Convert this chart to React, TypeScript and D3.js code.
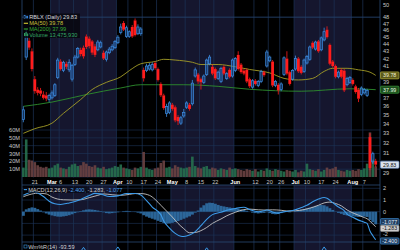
import React, { useEffect } from "react";
import * as d3 from "d3";

// ---------- trading days (2023) ----------
const febDays = [14, 15, 16, 17, 21, 22, 23, 24, 27, 28];
const marDays = [1, 2, 3, 6, 7, 8, 9, 10, 13, 14, 15, 16, 17, 20, 21, 22, 23, 24, 27, 28, 29, 30, 31];
const aprDays = [3, 4, 5, 6, 10, 11, 12, 13, 14, 17, 18, 19, 20, 21, 24, 25, 26, 27, 28];
const mayDays = [1, 2, 3, 4, 5, 8, 9, 10, 11, 12, 15, 16, 17, 18, 19, 22, 23, 24, 25, 26, 30, 31];
const junDays = [1, 2, 5, 6, 7, 8, 9, 12, 13, 14, 15, 16, 20, 21, 22, 23, 26, 27, 28, 29, 30];
const julDays = [3, 5, 6, 7, 10, 11, 12, 13, 14, 17, 18, 19, 20, 21, 24, 25, 26, 27, 28, 31];
const augDays = [1, 2, 3, 4, 7, 8, 9, 10, 11];

// ---------- OHLC ----------
const opens = [
  34.5, 42.2, 44.5, 43.0, 39.3, 38.0, 37.9, 37.4, 37.3, 36.8,
  37.0, 37.3, 39.5, 41.6, 40.4, 41.3, 40.5, 39.3, 41.2, 42.2,
  43.2, 43.5, 45.1, 44.8, 44.4, 43.7, 43.2, 43.6, 42.8, 41.9,
  42.8, 43.2, 43.5, 44.2, 45.7, 47.1, 45.1, 45.1, 46.5, 47.5,
  45.5, 45.5, 40.5, 40.4, 40.6, 40.5, 41.4, 40.6, 38.7, 37.3,
  35.2, 35.3, 36.2, 35.9, 34.8, 34.1, 34.9, 35.9, 36.2, 36.3,
  39.7, 39.9, 39.3, 38.9, 39.9, 41.3, 40.9, 40.6, 39.4, 39.0,
  40.9, 39.4, 40.5, 39.7, 40.4, 42.5, 41.2, 40.4, 40.5, 39.3,
  38.3, 39.1, 38.5, 39.0, 40.2, 41.0, 41.7, 41.6, 38.5, 38.6,
  38.0, 39.9, 42.0, 40.2, 39.3, 40.6, 42.0, 40.9, 40.3, 41.4,
  41.9, 44.2, 43.3, 44.4, 43.2, 44.6, 46.1, 43.9, 41.6, 41.0,
  39.6, 40.5, 40.4, 38.6, 38.9, 39.2, 38.4, 38.0, 37.4, 37.6,
  37.3, 32.6, 30.1, 30.2,
];
const highs = [
  36.0, 46.2, 44.9, 43.4, 39.7, 38.3, 38.2, 37.8, 37.7, 37.5,
  37.9, 38.8, 42.1, 41.9, 41.7, 41.6, 41.9, 41.3, 42.5, 43.6,
  43.5, 43.8, 45.4, 45.1, 44.6, 44.0, 44.6, 44.5, 43.1, 43.1,
  43.6, 44.0, 44.6, 45.3, 47.0, 47.4, 46.7, 46.0, 46.8, 47.8,
  46.9, 46.5, 40.8, 41.3, 41.4, 41.5, 41.6, 40.8, 38.9, 37.5,
  36.3, 36.6, 36.4, 36.1, 35.0, 34.9, 35.7, 36.6, 36.4, 39.2,
  40.8, 40.1, 39.5, 39.9, 42.0, 42.5, 41.2, 40.8, 40.4, 40.9,
  41.1, 40.2, 40.7, 42.0, 42.2, 43.0, 41.4, 40.6, 40.7, 39.5,
  39.3, 39.3, 39.2, 40.5, 40.4, 43.2, 42.4, 41.8, 39.2, 38.8,
  38.9, 42.3, 43.0, 40.4, 40.6, 42.4, 42.2, 41.1, 42.0, 42.5,
  43.8, 44.4, 44.5, 44.6, 45.1, 46.4, 46.6, 44.1, 41.8, 41.2,
  40.4, 40.7, 40.6, 39.6, 39.7, 39.4, 38.6, 38.2, 38.4, 38.2,
  38.1, 33.0, 31.1, 30.4,
];
const lows = [
  34.2, 41.8, 43.2, 40.3, 37.5, 37.3, 37.2, 36.8, 36.6, 36.5,
  36.8, 37.1, 39.3, 40.4, 40.2, 40.6, 40.2, 39.0, 41.0, 42.0,
  42.3, 42.0, 43.3, 43.4, 42.5, 42.2, 43.0, 43.4, 41.8, 41.6,
  42.6, 43.0, 43.3, 44.0, 45.4, 45.9, 44.9, 44.9, 44.9, 45.1,
  45.3, 45.2, 39.0, 40.2, 40.4, 40.3, 40.5, 39.0, 37.1, 35.6,
  34.8, 35.1, 35.5, 34.2, 33.9, 33.9, 34.7, 35.7, 35.5, 36.1,
  39.5, 38.7, 38.0, 38.7, 39.7, 41.1, 39.8, 39.2, 39.2, 38.8,
  39.8, 39.2, 39.4, 39.5, 40.2, 40.4, 40.0, 39.8, 38.8, 38.2,
  38.1, 38.5, 38.3, 38.8, 39.6, 40.8, 41.5, 38.3, 38.3, 37.4,
  37.8, 39.7, 39.8, 38.5, 39.1, 40.4, 40.1, 39.9, 40.1, 41.2,
  41.7, 43.3, 43.1, 42.8, 43.0, 44.4, 44.8, 41.1, 40.8, 39.4,
  39.4, 39.4, 37.7, 38.4, 38.7, 38.5, 37.5, 36.5, 37.2, 37.4,
  37.1, 29.3, 29.9, 29.6,
];
const closes = [
  35.6, 45.6, 43.5, 40.6, 37.8, 37.6, 37.5, 37.0, 36.9, 37.3,
  37.6, 38.6, 41.8, 40.6, 41.5, 40.9, 41.5, 41.1, 42.2, 43.4,
  42.6, 42.3, 43.6, 43.7, 42.8, 42.5, 44.3, 44.2, 42.0, 42.9,
  43.3, 43.7, 44.4, 45.0, 46.5, 46.1, 46.4, 45.8, 45.1, 45.3,
  46.5, 46.2, 39.4, 41.0, 41.1, 41.2, 40.7, 39.2, 37.3, 35.8,
  36.0, 36.4, 35.7, 34.4, 34.3, 34.7, 35.3, 36.4, 35.7, 38.8,
  40.5, 39.0, 38.9, 39.7, 41.8, 42.2, 40.0, 39.4, 40.2, 40.7,
  40.0, 40.0, 39.6, 41.8, 42.0, 40.6, 40.2, 40.0, 39.0, 38.4,
  39.1, 38.7, 39.0, 40.3, 39.8, 42.9, 42.2, 38.5, 39.0, 37.9,
  38.7, 42.1, 40.0, 38.7, 40.4, 42.0, 40.3, 40.1, 41.8, 42.3,
  43.6, 43.5, 44.3, 43.0, 44.9, 45.8, 45.0, 41.3, 41.0, 39.6,
  40.2, 39.6, 37.9, 39.4, 39.5, 38.7, 37.7, 36.9, 38.2, 38.0,
  37.9, 29.5, 30.9, 29.83,
];

// volume in millions
const volumesM = [
  12, 48, 22, 21, 19, 15, 13, 12, 13, 11,
  12, 15, 17, 12, 11, 10, 13, 16, 17, 14, 15, 19, 17, 14, 13, 15, 12, 11, 13, 10, 11, 12, 14,
  13, 16, 12, 11, 10, 9, 12, 11, 13, 32, 12, 10, 9, 11, 12, 18, 21, 12, 13,
  11, 15, 13, 12, 11, 12, 13, 26, 14, 12, 11, 13, 14, 10, 12, 11, 9, 11, 10, 9, 12, 10,
  11, 10, 9, 8, 10, 9, 8, 10, 7, 9, 8, 11, 9, 8, 10, 9, 8, 7, 9, 8, 7,
  9, 6, 8, 7, 17, 10, 9, 8, 10, 7, 9, 12, 10, 11, 13, 9, 8, 7, 9, 8,
  9, 8, 10, 9, 11, 17, 57, 22, 13.48,
];

// moving averages: [day index, value]
const ma50Pts: [number, number][] = [
  [0, 33.0], [4, 33.5], [10, 34.1], [14, 35.2], [20, 36.8], [24, 38.0], [29, 38.9], [34, 39.6],
  [37, 40.4], [41, 41.3], [46, 41.6], [49, 41.9], [53, 41.8], [59, 41.5], [62, 41.2], [68, 41.2],
  [74, 40.9], [79, 40.55], [86, 40.1], [91, 39.4], [96, 39.2], [101, 39.4], [105, 40.3],
  [108, 40.7], [113, 40.7], [117, 40.5], [121, 40.2], [123, 39.78],
];
const ma200Pts: [number, number][] = [
  [0, 36.0], [10, 36.5], [22, 37.4], [34, 38.2], [41, 38.6], [46, 38.6], [56, 38.6], [68, 38.4],
  [79, 38.04], [97, 37.8], [114, 38.1], [123, 37.99],
];

// MACD(12,26,9)
const macdPts: [number, number][] = [
  [0, 1.40], [2, 1.62], [3, 1.72], [5, 1.60], [7, 1.30], [9, 0.90], [11, 0.68], [13, 0.62],
  [16, 0.75], [20, 1.05], [23, 1.38], [25, 1.57], [27, 1.52], [30, 1.30], [33, 1.35], [36, 1.55],
  [39, 1.55], [41, 1.42], [43, 0.95], [45, 0.40], [48, -0.25], [49, -0.80], [51, -1.40],
  [53, -1.85], [55, -2.10], [56, -2.12], [58, -2.00], [60, -1.70], [62, -1.20], [64, -0.65],
  [66, -0.25], [69, -0.05], [71, 0.12], [74, 0.28], [77, 0.38], [79, 0.18], [82, 0.0], [84, 0.08],
  [85, 0.15], [87, -0.02], [89, -0.12], [91, 0.0], [94, 0.10], [97, 0.35], [99, 0.55], [101, 0.85],
  [103, 1.08], [105, 1.22], [106, 1.15], [108, 0.78], [110, 0.40], [112, 0.10], [113, -0.20],
  [115, -0.48], [117, -0.72], [119, -0.90], [120, -1.0], [121, -1.65], [122, -2.05], [123, -2.40],
];
const signalPts: [number, number][] = [
  [0, 1.28], [2, 1.45], [5, 1.58], [8, 1.52], [10, 1.25], [12, 1.08], [14, 1.02], [17, 1.0],
  [20, 1.02], [23, 1.20], [26, 1.40], [28, 1.52], [31, 1.45], [34, 1.40], [37, 1.48], [39, 1.55],
  [41, 1.55], [44, 1.40], [46, 1.05], [48, 0.55], [50, 0.05], [52, -0.45], [54, -1.0], [56, -1.45],
  [58, -1.80], [60, -1.78], [62, -1.62], [64, -1.35], [66, -1.0], [69, -0.62], [71, -0.35],
  [74, -0.05], [77, 0.18], [79, 0.22], [82, 0.16], [84, 0.14], [87, 0.16], [90, 0.12], [92, 0.06],
  [95, 0.08], [98, 0.18], [100, 0.30], [103, 0.55], [105, 0.75], [107, 0.82], [109, 0.70],
  [111, 0.50], [113, 0.15], [115, -0.10], [117, -0.30], [119, -0.50], [120, -0.60], [121, -0.81],
  [122, -1.05], [123, -1.283],
];
const macdHist = [
  -0.35, 0.20, 0.30, 0.37, 0.33, 0.22, 0.10, -0.05, -0.15, -0.25,
  -0.32, -0.38, -0.42, -0.43, -0.40, -0.36, -0.30, -0.22, -0.12, -0.05,
  0.05, 0.12, 0.18, 0.20, 0.18, 0.15, 0.10, 0.05, -0.05, -0.12,
  -0.15, -0.12, -0.08, -0.05, 0.0, 0.05, 0.07, 0.05, 0.02, -0.03,
  -0.08, -0.15, -0.30, -0.42, -0.52, -0.60, -0.68, -0.78, -0.88, -0.97,
  -1.02, -1.00, -0.95, -0.88, -0.80, -0.70, -0.60, -0.50, -0.40, -0.25,
  -0.08, 0.10, 0.35, 0.55, 0.72, 0.77, 0.75, 0.68, 0.58, 0.50,
  0.45, 0.40, 0.36, 0.32, 0.28, 0.25, 0.20, 0.15, 0.08, 0.0,
  -0.08, -0.12, -0.15, -0.12, -0.10, -0.05, -0.12, -0.20, -0.22, -0.20,
  -0.12, -0.05, 0.0, -0.05, 0.0, 0.05, 0.12, 0.18, 0.24, 0.28,
  0.35, 0.42, 0.50, 0.55, 0.57, 0.55, 0.45, 0.30, 0.15, 0.02,
  -0.10, -0.18, -0.28, -0.32, -0.35, -0.40, -0.42, -0.45, -0.43, -0.42,
  -0.45, -0.71, -0.90, -1.077,
];

// Williams %R(14): only the peaks reach the visible strip
const wmrPts: [number, number][] = [
  [17, -40], [21, -2], [25, -40], [29, -40], [33, -1], [37, -40],
  [60, -40], [64, -3], [68, -40], [101, -40], [105, -1], [109, -40],
];

// axes (labels hidden under the value boxes are left out)
const priceTicks = [50, 48, 47, 46, 45, 44, 43, 42, 41, 39, 37, 36, 35, 34, 33, 32, 31, 29];
const priceGrid = [48];
const volumeTicks = [10, 20, 30, 40, 50, 60];
const macdTicks = [2, 1, 0, -2];
const macdGrid = [2, 1, 0, -1, -2];
const dateTicks: [string, string][] = [
  ["2023-02-21", "21"], ["2023-03-01", "Mar"], ["2023-03-06", "6"], ["2023-03-13", "13"],
  ["2023-03-20", "20"], ["2023-03-27", "27"], ["2023-04-03", "Apr"], ["2023-04-10", "10"],
  ["2023-04-17", "17"], ["2023-04-24", "24"], ["2023-05-01", "May"], ["2023-05-08", "8"],
  ["2023-05-15", "15"], ["2023-05-22", "22"], ["2023-06-01", "Jun"], ["2023-06-12", "12"],
  ["2023-06-20", "20"], ["2023-06-26", "26"], ["2023-07-03", "Jul"], ["2023-07-10", "10"],
  ["2023-07-17", "17"], ["2023-07-24", "24"], ["2023-08-01", "Aug"], ["2023-08-07", "7"],
];
const shadedMonths = ["2023-03", "2023-05", "2023-07"];

const pad = (n: number) => (n < 10 ? "0" + n : "" + n);
const monthList: [number, number[]][] = [
  [2, febDays], [3, marDays], [4, aprDays], [5, mayDays], [6, junDays], [7, julDays], [8, augDays],
];
const dates: string[] = [];
monthList.forEach(([m, ds]) => ds.forEach((d) => dates.push(`2023-${pad(m)}-${pad(d)}`)));

const FONT = "'Liberation Sans', Arial, sans-serif";
const X0 = 22, X1 = 380;
const MAIN_TOP = 0, MAIN_BOT = 177.5;
const MACD_TOP = 185, MACD_BOT = 242;
const WMR_TOP = 242, WMR_BOT = 250;
const GRID = "#1c3457";
const SHADE = "#15162e";
const UP = "#3d8fe6";
const DOWN = "#ff1c1c";

export default function App() {
  useEffect(() => {
    document.body.style.margin = "0";
    document.body.style.background = "#000";
  }, []);

  const x = d3.scalePoint<string>().domain(dates).range([23.35, 375.7]);
  const step = x.step();
  const xi = (i: number) => x(dates[i]) as number;
  const yP = d3.scaleLog().domain([29, 50]).range([173.4, 4.5]);
  const yV = d3.scaleLinear().domain([0, 60]).range([177, 130]);
  const yM = d3.scaleLinear().domain([-2, 2]).range([235.1, 188.3]);
  const yW = d3.scaleLinear().domain([-100, 0]).range([290, 246.5]);

  const lineP = d3.line<[number, number]>().x((d) => xi(d[0])).y((d) => yP(d[1])).curve(d3.curveMonotoneX);
  const lineM = d3.line<[number, number]>().x((d) => xi(d[0])).y((d) => yM(d[1])).curve(d3.curveMonotoneX);
  const lineW = d3.line<[number, number]>().x((d) => xi(d[0])).y((d) => yW(d[1]));

  const shades = shadedMonths.map((m) => {
    const idx = dates.findIndex((d) => d.startsWith(m));
    const nextIdx = dates.findIndex((d, k) => k > idx && !d.startsWith(m));
    const a = xi(idx) - step / 2;
    const b = nextIdx < 0 ? X1 : xi(nextIdx) - step / 2;
    return [a, b];
  });

  const panels: [number, number][] = [[MAIN_TOP, MAIN_BOT], [MACD_TOP, MACD_BOT], [WMR_TOP, WMR_BOT]];
  const fs = 5.6;
  const last = closes.length - 1;

  const box = (y: number, text: string, fill: string, stroke: string, color: string, key: string, h = 7) => (
    <g key={key}>
      <rect x={380.5} y={y - h / 2} width={18.5} height={h} rx={1} fill={fill} stroke={stroke} strokeWidth={0.7} />
      <text x={389.7} y={y + 1.9} textAnchor="middle" fontSize={5.3} fill={color} fontFamily={FONT}>{text}</text>
    </g>
  );

  return (
    <div style={{ position: "absolute", left: 0, top: 0, width: 400, height: 250, background: "#000" }}>
      <svg width={400} height={250} style={{ display: "block" }} fontFamily={FONT}>
        <defs>
          <clipPath id="cMain"><rect x={X0} y={MAIN_TOP} width={X1 - X0} height={MAIN_BOT - MAIN_TOP} /></clipPath>
          <clipPath id="cMacd"><rect x={X0} y={MACD_TOP} width={X1 - X0} height={MACD_BOT - MACD_TOP} /></clipPath>
          <clipPath id="cWmr"><rect x={X0} y={WMR_TOP} width={X1 - X0} height={WMR_BOT - WMR_TOP} /></clipPath>
        </defs>
        <rect x={0} y={0} width={400} height={250} fill="#000" />

        {panels.map(([t, b], pi) =>
          shades.map(([a, c], si) => (
            <rect key={`sh${pi}-${si}`} x={a} y={t} width={c - a} height={b - t} fill={SHADE} />
          ))
        )}

        {panels.map(([t, b], pi) =>
          dateTicks.map(([d], k) => (
            <line key={`vg${pi}-${k}`} x1={(x(d) as number) - step / 2} x2={(x(d) as number) - step / 2} y1={t} y2={b}
              stroke={GRID} strokeWidth={0.7} />
          ))
        )}

        {priceGrid.map((p) => (
          <line key={`pg${p}`} x1={X0} x2={X1} y1={yP(p)} y2={yP(p)} stroke="#24436c" strokeWidth={0.9} />
        ))}
        {volumeTicks.map((v) => (
          <line key={`vgl${v}`} x1={X0} x2={X1} y1={yV(v)} y2={yV(v)} stroke={GRID} strokeWidth={0.6} />
        ))}
        {macdGrid.map((v) => (
          <line key={`mg${v}`} x1={X0} x2={X1} y1={yM(v)} y2={yM(v)} stroke={GRID} strokeWidth={0.6} />
        ))}

        <line x1={X0} x2={X1} y1={MACD_TOP} y2={MACD_TOP} stroke="#2a4a74" strokeWidth={0.8} />
        <line x1={X0} x2={X1} y1={WMR_TOP} y2={WMR_TOP} stroke="#2a4a74" strokeWidth={0.8} />
        <line x1={X0} x2={X0} y1={0} y2={250} stroke="#2a4a74" strokeWidth={0.8} />
        <line x1={X1} x2={X1} y1={0} y2={250} stroke="#2a4a74" strokeWidth={0.8} />

        <g clipPath="url(#cMain)">
          {volumesM.map((v, i) => {
            const up = closes[i] >= opens[i];
            return (
              <rect key={`v${i}`} x={xi(i) - 1.3} y={yV(v)} width={2.6} height={yV(0) - yV(v)}
                fill={up ? "#27704f" : "#6b4242"} opacity={0.9} />
            );
          })}
          <path d={lineP(ma200Pts) || ""} fill="none" stroke="#2e8f2e" strokeWidth={0.9} />
          <path d={lineP(ma50Pts) || ""} fill="none" stroke="#a49d27" strokeWidth={0.9} />
          {closes.map((c, i) => {
            const o = opens[i];
            const up = c >= o;
            const col = up ? UP : DOWN;
            const cx = xi(i);
            const top = yP(Math.max(o, c));
            const bot = yP(Math.min(o, c));
            return (
              <g key={`c${i}`}>
                <line x1={cx} x2={cx} y1={yP(highs[i])} y2={top} stroke={col} strokeWidth={0.8} />
                <line x1={cx} x2={cx} y1={bot} y2={yP(lows[i])} stroke={col} strokeWidth={0.8} />
                {up ? (
                  <rect x={cx - 1.15} y={top} width={2.3} height={Math.max(0.8, bot - top)}
                    fill="rgba(40,95,170,0.5)" stroke={col} strokeWidth={0.7} />
                ) : (
                  <rect x={cx - 1.4} y={top} width={2.8} height={Math.max(1, bot - top)} fill={col} />
                )}
              </g>
            );
          })}
        </g>

        {/* legend main */}
        <rect x={23} y={13.5} width={57} height={24.5} fill="#05050c" opacity={0.75} />
        <rect x={24} y={15.2} width={1.6} height={3.4} fill="none" stroke={UP} strokeWidth={0.5} />
        <rect x={26.3} y={15.8} width={1.6} height={2.6} fill={UP} />
        <text x={29.2} y={19.3} fontSize={fs} fill="#d8d8d8">RBLX (Daily) 29.83</text>
        <line x1={23.8} x2={28} y1={23.3} y2={23.3} stroke="#c8c030" strokeWidth={1.2} />
        <text x={29.2} y={25.3} fontSize={fs} fill="#c9c13a">MA(50) 39.78</text>
        <line x1={23.8} x2={28} y1={29} y2={29} stroke="#2e9a2e" strokeWidth={1.2} />
        <text x={29.2} y={31} fontSize={fs} fill="#35a835">MA(200) 37.99</text>
        <rect x={24} y={33} width={1.2} height={3} fill="#2f9a5c" />
        <rect x={25.5} y={32} width={1.2} height={4} fill="#2f9a5c" />
        <rect x={27} y={33.6} width={1.2} height={2.4} fill="#2f9a5c" />
        <text x={29.2} y={36.7} fontSize={fs} fill="#35a866">Volume 13,475,930</text>

        {/* macd panel */}
        <g clipPath="url(#cMacd)">
          {macdHist.map((h, i) => (
            <rect key={`h${i}`} x={xi(i) - step / 2} y={Math.min(yM(h), yM(0))} width={step + 0.05}
              height={Math.abs(yM(h) - yM(0))} fill="#2f6fa6" opacity={0.9} />
          ))}
          <path d={lineM(signalPts) || ""} fill="none" stroke="#c4c4c4" strokeWidth={0.9} />
          <path d={lineM(macdPts) || ""} fill="none" stroke="#3c9ae8" strokeWidth={1.1} />
        </g>
        <rect x={23} y={186.5} width={66} height={6.5} fill="#05050c" opacity={0.6} />
        <line x1={23.8} x2={27} y1={189.6} y2={189.6} stroke="#3c9ae8" strokeWidth={1.1} />
        <text x={28.2} y={191.6} fontSize={fs} fill="#d0d0d0">
          MACD(12,26,9)
          <tspan fill="#4da2ea"> -2.400,</tspan>
          <tspan fill="#c8c8c8"> -1.283,</tspan>
          <tspan fill="#4da2ea"> -1.077</tspan>
        </text>

        {/* wmr panel */}
        <g clipPath="url(#cWmr)">
          <path d={lineW(wmrPts) || ""} fill="none" stroke="#3c9ae8" strokeWidth={1} />
        </g>
        <rect x={24} y={245} width={3} height={3} fill="none" stroke="#3c9ae8" strokeWidth={0.6} />
        <text x={28.2} y={249} fontSize={fs} fill="#d0d0d0">Wm%R(14) -93.59</text>

        {/* date axis */}
        {dateTicks.map(([d, lab], k) => {
          const bold = /[A-Za-z]/.test(lab);
          return (
            <text key={`dt${k}`} x={x(d) as number} y={183.6} textAnchor="middle" fontSize={fs}
              fontWeight={bold ? "bold" : "normal"} fill={bold ? "#ffffff" : "#c8c8c8"}>{lab}</text>
          );
        })}

        {priceTicks.map((p) => (
          <text key={`pt${p}`} x={383} y={yP(p) + 2} fontSize={fs} fill="#c8c8c8">{p}</text>
        ))}
        {volumeTicks.map((v) => (
          <text key={`vt${v}`} x={20} y={yV(v) + 2} textAnchor="end" fontSize={fs} fill="#c8c8c8">{v}M</text>
        ))}
        {macdTicks.map((v) => (
          <text key={`mt${v}`} x={383} y={yM(v) + (v === -2 ? 1 : 2)} fontSize={fs} fill="#c8c8c8">{v}</text>
        ))}

        {box(yP(39.78), "39.78", "#5c5a1c", "#b4ad3a", "#f4f2d0", "b1")}
        {box(yP(37.99), "37.99", "#1d4d1d", "#3ca03c", "#e4ffe4", "b2")}
        {box(yP(closes[last]), "29.83", "#dde3ec", "#6f97d0", "#111", "b3")}
        {box(yM(-1.077) - 2.6, "-1.077", "#1f3d5e", "#3c8ad0", "#e8f0ff", "b4", 6.2)}
        {box(yM(-1.283) + 1.6, "-1.283", "#cfcfcf", "#888", "#111", "b5", 6.2)}
        {box(yM(-2.4) + 1.2, "-2.400", "#1f3d5e", "#3c8ad0", "#e8f0ff", "b6", 6.2)}
      </svg>
    </div>
  );
}
